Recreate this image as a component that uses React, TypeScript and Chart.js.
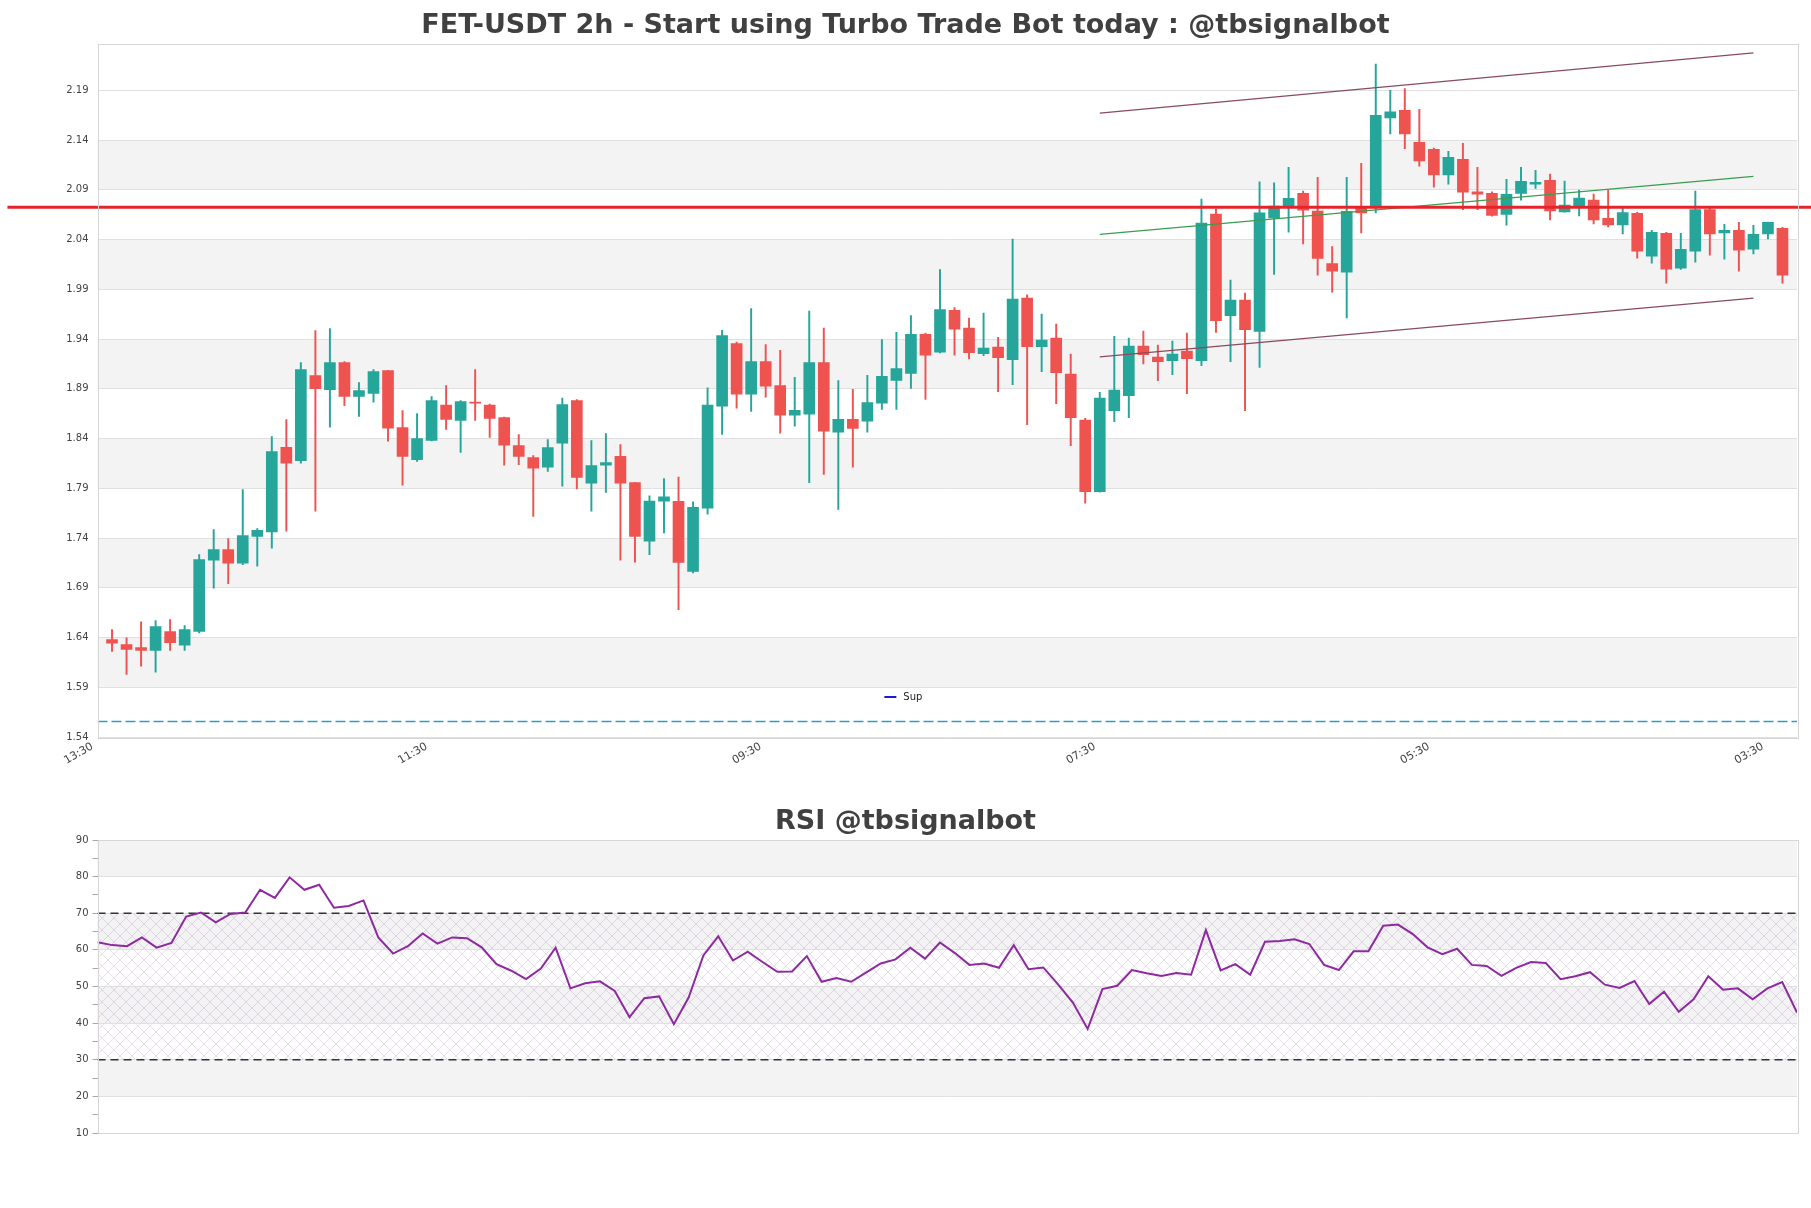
import React, { useEffect, useRef } from "react";
import { Chart, registerables } from "chart.js";

Chart.register(...registerables);

// ---------------- DATA ----------------
const mainTitle = "FET-USDT 2h - Start using Turbo Trade Bot today : @tbsignalbot";
const rsiTitle = "RSI @tbsignalbot";

const opens = [
  1.6379, 1.6329, 1.6299, 1.6269, 1.646, 1.6322, 1.646, 1.7176, 1.7283, 1.7146,
  1.7417, 1.7461, 1.8312, 1.8178, 1.9032, 1.8891, 1.9162, 1.8824, 1.8854, 1.9082,
  1.8509, 1.8188, 1.8382, 1.8737, 1.8583, 1.8765, 1.8737, 1.861, 1.8328, 1.8208,
  1.8111, 1.8352, 1.878, 1.795, 1.8131, 1.8221, 1.7957, 1.7367, 1.7769, 1.7768,
  1.7063, 1.7701, 1.8726, 1.9355, 1.8846, 1.9174, 1.8933, 1.8635, 1.8645, 1.9164,
  1.8464, 1.8592, 1.8575, 1.8756, 1.8983, 1.9054, 1.9446, 1.9268, 1.9687, 1.951,
  1.9252, 1.9319, 1.9192, 1.9812, 1.9323, 1.941, 1.9048, 1.8586, 1.7866, 1.868,
  1.883, 1.9329, 1.9219, 1.9182, 1.9279, 1.9182, 2.0656, 1.9634, 1.9791, 1.9477,
  2.0618, 2.0729, 2.0863, 2.0685, 2.0158, 2.0071, 2.0719, 2.0726, 2.1621, 2.1699,
  2.1377, 2.1306, 2.1048, 2.1205, 2.088, 2.0863, 2.0652, 2.0863, 2.0957, 2.0994,
  2.0678, 2.0738, 2.0796, 2.0614, 2.0546, 2.0664, 2.0233, 2.0462, 2.0112, 2.0284,
  2.0701, 2.0466, 2.0493, 2.0304, 2.0456, 2.0513,
];
const highs = [
  1.648, 1.6396, 1.6557, 1.657, 1.658, 1.652, 1.7233, 1.7484, 1.7394, 1.7886,
  1.7494, 1.8419, 1.859, 1.9162, 1.9484, 1.9504, 1.9172, 1.8961, 1.9092, 1.9085,
  1.868, 1.865, 1.8821, 1.8931, 1.878, 1.9092, 1.8745, 1.8616, 1.8439, 1.8228,
  1.8389, 1.8807, 1.879, 1.8379, 1.8449, 1.8338, 1.796, 1.7823, 1.7997, 1.8012,
  1.7764, 1.891, 1.9486, 1.937, 1.9707, 1.9345, 1.9285, 1.9014, 1.968, 1.9509,
  1.8983, 1.8893, 1.9034, 1.9395, 1.9466, 1.9636, 1.946, 2.0099, 1.9717, 1.9611,
  1.9661, 1.9416, 2.0404, 1.9845, 1.9651, 1.955, 1.9249, 1.8603, 1.8864, 1.9427,
  1.941, 1.948, 1.934, 1.938, 1.946, 2.0806, 2.0706, 1.9992, 1.9862, 2.098,
  2.097, 2.1125, 2.0887, 2.1024, 2.033, 2.1024, 2.1165, 2.2162, 2.19, 2.1917,
  2.1709, 2.132, 2.1286, 2.1366, 2.1125, 2.088, 2.1004, 2.1125, 2.1095, 2.1058,
  2.0988, 2.0897, 2.0856, 2.0897, 2.0722, 2.0674, 2.0493, 2.0472, 2.0462, 2.0887,
  2.0722, 2.0553, 2.0573, 2.0543, 2.0575, 2.0523,
];
const lows = [
  1.6259, 1.6028, 1.6111, 1.6051, 1.6269, 1.6269, 1.6446, 1.6895, 1.6942, 1.7133,
  1.7116, 1.7297, 1.7468, 1.8151, 1.7669, 1.8513, 1.873, 1.8623, 1.8764, 1.8372,
  1.793, 1.817, 1.8375, 1.8492, 1.8261, 1.8583, 1.8412, 1.8131, 1.8137, 1.7618,
  1.807, 1.792, 1.7893, 1.7669, 1.7859, 1.7176, 1.7156, 1.7233, 1.7451, 1.668,
  1.705, 1.764, 1.8441, 1.8705, 1.8672, 1.8816, 1.8454, 1.8525, 1.7955, 1.8039,
  1.7687, 1.8113, 1.8464, 1.8692, 1.8692, 1.8903, 1.8793, 1.926, 1.9238, 1.9199,
  1.9232, 1.887, 1.8941, 1.8539, 1.9071, 1.875, 1.8328, 1.7749, 1.786, 1.8569,
  1.8609, 1.9149, 1.8981, 1.9041, 1.885, 1.9132, 1.9467, 1.9172, 1.868, 1.9115,
  2.0048, 2.0474, 2.0356, 2.0041, 1.987, 1.9611, 2.0467, 2.0668, 2.146, 2.1313,
  2.1138, 2.0927, 2.0957, 2.0699, 2.0699, 2.0635, 2.0544, 2.0796, 2.0913, 2.0597,
  2.0675, 2.0637, 2.0557, 2.0526, 2.0456, 2.0213, 2.0163, 1.9961, 2.01, 2.0173,
  2.0243, 2.0203, 2.0082, 2.0254, 2.0405, 1.9961,
];
const closes = [
  1.6342, 1.6279, 1.6269, 1.651, 1.6349, 1.648, 1.7183, 1.7283, 1.7146, 1.7424,
  1.7478, 1.8268, 1.8151, 1.9092, 1.8901, 1.9162, 1.8824, 1.8881, 1.9072, 1.8503,
  1.8221, 1.8399, 1.878, 1.8593, 1.877, 1.8755, 1.8603, 1.8332, 1.8221, 1.8101,
  1.8308, 1.874, 1.801, 1.8127, 1.8158, 1.795, 1.7417, 1.7772, 1.7813, 1.7155,
  1.7708, 1.8736, 1.9435, 1.8846, 1.9174, 1.8926, 1.8635, 1.8682, 1.9164, 1.8474,
  1.8592, 1.8501, 1.8762, 1.9024, 1.9104, 1.9446, 1.9238, 1.9697, 1.9499, 1.9262,
  1.9309, 1.9212, 1.9802, 1.9323, 1.939, 1.9061, 1.8609, 1.7866, 1.8807, 1.8887,
  1.9329, 1.9242, 1.9172, 1.9249, 1.9202, 2.0565, 1.9584, 1.9791, 1.9493, 2.0668,
  2.0736, 2.0813, 2.0695, 2.0209, 2.0081, 2.0682, 2.0668, 2.1648, 2.1682, 2.146,
  2.1189, 2.1048, 2.1226, 2.0876, 2.0856, 2.0642, 2.0853, 2.0984, 2.0974, 2.0688,
  2.0745, 2.0816, 2.0597, 2.0546, 2.0671, 2.0284, 2.0472, 2.0102, 2.0301, 2.0701,
  2.0456, 2.0493, 2.0294, 2.0452, 2.0573, 2.0041,
];

const rsiValues = [
  62.1, 61.3, 61.0, 63.4, 60.6, 61.9, 69.1, 70.2, 67.5, 69.8,
  70.2, 76.4, 74.2, 79.8, 76.4, 77.8, 71.5, 72.0, 73.5, 63.4,
  59.0, 61.0, 64.5, 61.7, 63.4, 63.2, 60.7, 56.1, 54.3, 52.0,
  54.9, 60.6, 49.5, 50.9, 51.4, 48.8, 41.6, 46.8, 47.3, 39.7,
  47.0, 58.5, 63.7, 57.1, 59.5, 56.7, 54.0, 54.1, 58.3, 51.3,
  52.3, 51.3, 53.8, 56.3, 57.4, 60.6, 57.6, 62.0, 59.2, 55.9,
  56.3, 55.1, 61.3, 54.7, 55.2, 50.6, 45.6, 38.4, 49.3, 50.2,
  54.5, 53.6, 52.9, 53.7, 53.2, 65.4, 54.4, 56.1, 53.2, 62.2,
  62.4, 62.9, 61.6, 55.9, 54.5, 59.6, 59.6, 66.6, 66.9, 64.3,
  60.7, 58.8, 60.3, 55.9, 55.6, 52.9, 55.1, 56.7, 56.4, 52.0,
  52.8, 53.9, 50.5, 49.6, 51.5, 45.2, 48.6, 43.1, 46.5, 52.8,
  49.1, 49.5, 46.5, 49.5, 51.2, 42.9,
];

const xTickPositions = [-1, 22, 45, 68, 91, 114];
const xTickLabels = ["13:30", "11:30", "09:30", "07:30", "05:30", "03:30"];
const xRange = [-1, 116];
const priceTicks = [1.54, 1.59, 1.64, 1.69, 1.74, 1.79, 1.84, 1.89, 1.94, 1.99, 2.04, 2.09, 2.14, 2.19];
const priceRange = [1.54, 2.237];
const priceBands = [[1.59, 1.64], [1.69, 1.74], [1.79, 1.84], [1.89, 1.94], [1.99, 2.04], [2.09, 2.14]];

const resistanceLevel = 2.0724;
const resistanceSpan = [-7.2, 117];
const supportLevel = 1.5556;
const supportLabel = "Sup";
const channelX = [68, 113];
const upperChannel = [2.167, 2.2276];
const lowerChannel = [1.922, 1.981];
const midChannel = [2.0452, 2.1035];

const rsiRange = [10, 90];
const rsiBands = [[20, 30], [40, 50], [60, 70], [80, 90]];
const rsiLevels = [70, 30];
const rsiHatch = [30, 70];

// ---------------- STYLE ----------------
const GREEN = "#26a69a";
const RED = "#ef5350";
const TEXT = "#444444";
const FONT = "'DejaVu Sans', 'Noto Sans', sans-serif";

const candleColors = opens.map((o, i) => (closes[i] >= o ? GREEN : RED));

function bandsPlugin(bands: number[][], hatch?: number[]) {
  return {
    id: "bands",
    beforeDraw(chart: any) {
      const { ctx, chartArea: a, scales } = chart;
      const y = scales.y;
      ctx.save();
      ctx.fillStyle = "#f3f3f3";
      for (const [lo, hi] of bands) {
        const y1 = y.getPixelForValue(hi);
        const y2 = y.getPixelForValue(lo);
        ctx.fillRect(a.left, y1, a.right - a.left, y2 - y1);
      }
      if (hatch) {
        const tile = document.createElement("canvas");
        tile.width = 12;
        tile.height = 12;
        const g = tile.getContext("2d")!;
        g.strokeStyle = "rgba(160,125,185,0.38)";
        g.lineWidth = 0.7;
        g.beginPath();
        for (const k of [-12, 0, 12]) {
          g.moveTo(k, 0);
          g.lineTo(k + 12, 12);
          g.moveTo(k + 12, 0);
          g.lineTo(k, 12);
        }
        g.stroke();
        const pat = ctx.createPattern(tile, "repeat");
        if (pat) {
          ctx.fillStyle = pat;
          const y1 = y.getPixelForValue(hatch[1]);
          const y2 = y.getPixelForValue(hatch[0]);
          ctx.fillRect(a.left, y1, a.right - a.left, y2 - y1);
        }
      }
      ctx.restore();
    },
  };
}

const borderPlugin = {
  id: "areaBorder",
  afterDraw(chart: any) {
    const { ctx, chartArea: a } = chart;
    ctx.save();
    ctx.strokeStyle = "#d6d6d6";
    ctx.lineWidth = 1;
    ctx.strokeRect(Math.round(a.left) + 0.5, Math.round(a.top) + 0.5, Math.round(a.right - a.left), Math.round(a.bottom - a.top));
    ctx.restore();
  },
};

const legendPlugin = {
  id: "supLegend",
  afterDraw(chart: any) {
    const { ctx, chartArea: a } = chart;
    const x0 = a.left + (a.right - a.left) * 0.463;
    const y0 = a.bottom - 40;
    ctx.save();
    ctx.strokeStyle = "#1a1adb";
    ctx.lineWidth = 2;
    ctx.beginPath();
    ctx.moveTo(x0, y0);
    ctx.lineTo(x0 + 12, y0);
    ctx.stroke();
    ctx.fillStyle = "#222";
    ctx.font = `10px ${FONT}`;
    ctx.textBaseline = "middle";
    ctx.fillText(supportLabel, x0 + 19, y0);
    ctx.restore();
  },
};

const rightSpacer = {
  position: "right",
  display: true,
  grid: { display: false, drawTicks: false },
  border: { display: false },
  ticks: { display: false },
  afterFit: (s: any) => {
    s.width = 14;
  },
};

export default function App() {
  const mainRef = useRef<HTMLCanvasElement>(null);
  const rsiRef = useRef<HTMLCanvasElement>(null);

  useEffect(() => {
    Chart.defaults.font.family = FONT;

    const line2 = (xs: number[], ys: number[]) => [
      { x: xs[0], y: ys[0] },
      { x: xs[1], y: ys[1] },
    ];

    const main = new Chart(mainRef.current!, {
      type: "bar",
      data: {
        datasets: [
          {
            type: "line",
            label: "Res",
            data: line2(resistanceSpan, [resistanceLevel, resistanceLevel]),
            borderColor: "#e3242b",
            borderWidth: 3,
            pointRadius: 0,
            clip: false,
            order: 0,
          } as any,
          {
            type: "line",
            data: line2(channelX, upperChannel),
            borderColor: "#8a4a5e",
            borderWidth: 1.2,
            pointRadius: 0,
            order: 1,
          } as any,
          {
            type: "line",
            data: line2(channelX, lowerChannel),
            borderColor: "#8a4a5e",
            borderWidth: 1.2,
            pointRadius: 0,
            order: 1,
          } as any,
          {
            type: "line",
            data: line2(channelX, midChannel),
            borderColor: "#3a9d4f",
            borderWidth: 1.2,
            pointRadius: 0,
            order: 1,
          } as any,
          {
            type: "bar",
            label: "body",
            data: opens.map((o, i) => ({ x: i, y: [o, closes[i]] })),
            backgroundColor: candleColors,
            barThickness: 11,
            grouped: false,
            minBarLength: 1,
            borderWidth: 0,
            order: 2,
          } as any,
          {
            type: "bar",
            label: "wick",
            data: lows.map((l, i) => ({ x: i, y: [l, highs[i]] })),
            backgroundColor: candleColors,
            barThickness: 1.3,
            grouped: false,
            borderWidth: 0,
            order: 3,
          } as any,
          {
            type: "line",
            label: supportLabel,
            data: line2(xRange, [supportLevel, supportLevel]),
            borderColor: "#2a9ccf",
            borderWidth: 1.3,
            borderDash: [10, 4],
            pointRadius: 0,
            order: 4,
          } as any,
        ],
      },
      options: {
        responsive: false,
        animation: false,
        devicePixelRatio: 1,
        events: [],
        layout: { padding: { left: 0, right: 0, top: 0, bottom: 0 } },
        plugins: {
          legend: { display: false },
          tooltip: { enabled: false },
          title: {
            display: true,
            text: mainTitle,
            color: "#404040",
            font: { size: 27, weight: "bold", family: FONT },
            padding: { top: 10, bottom: 1.1 },
          },
        },
        scales: {
          x: {
            type: "linear",
            min: xRange[0],
            max: xRange[1],
            offset: false,
            grid: { display: false, drawTicks: false },
            border: { display: false },
            afterBuildTicks: (s: any) => {
              s.ticks = xTickPositions.map((v) => ({ value: v }));
            },
            ticks: {
              autoSkip: false,
              minRotation: 30,
              maxRotation: 30,
              padding: 3,
              labelOffset: -5,
              color: TEXT,
              font: { size: 11 },
              callback: (v: any) => xTickLabels[xTickPositions.indexOf(Number(v))] ?? "",
            },
            afterFit: (s: any) => {
              s.height = 43;
            },
          },
          y: {
            type: "linear",
            min: priceRange[0],
            max: priceRange[1],
            grid: { color: "#e0e0e0", drawTicks: false },
            border: { display: false },
            afterBuildTicks: (s: any) => {
              s.ticks = priceTicks.map((v) => ({ value: v }));
            },
            ticks: {
              padding: 9,
              color: TEXT,
              font: { size: 10 },
              callback: (v: any) => Number(v).toFixed(2),
            },
            afterFit: (s: any) => {
              s.width = 97.5;
            },
          },
          yRight: rightSpacer as any,
        },
      } as any,
      plugins: [bandsPlugin(priceBands), borderPlugin, legendPlugin],
    });

    const rsi = new Chart(rsiRef.current!, {
      type: "line",
      data: {
        datasets: [
          {
            data: rsiValues.map((v, i) => ({ x: i, y: v })),
            borderColor: "#8e2aa0",
            borderWidth: 2,
            pointRadius: 0,
            tension: 0,
            order: 0,
          } as any,
          ...rsiLevels.map(
            (lv) =>
              ({
                data: [
                  { x: 0, y: lv },
                  { x: rsiValues.length - 1, y: lv },
                ],
                borderColor: "#333333",
                borderWidth: 1.3,
                borderDash: [8, 5],
                pointRadius: 0,
                order: 1,
              }) as any
          ),
        ],
      },
      options: {
        responsive: false,
        animation: false,
        devicePixelRatio: 1,
        events: [],
        layout: { padding: { left: 0, right: 0, top: 0, bottom: 47 } },
        plugins: {
          legend: { display: false },
          tooltip: { enabled: false },
          title: {
            display: true,
            text: rsiTitle,
            color: "#404040",
            font: { size: 27, weight: "bold", family: FONT },
            padding: { top: 26.1, bottom: 1.5 },
          },
        },
        scales: {
          x: {
            type: "linear",
            min: 0,
            max: rsiValues.length - 1,
            display: false,
          },
          y: {
            type: "linear",
            min: rsiRange[0],
            max: rsiRange[1],
            border: { display: false },
            grid: {
              color: (c: any) => (c.tick && c.tick.value % 10 === 0 ? "#e0e0e0" : "rgba(0,0,0,0)"),
              tickColor: "#aaaaaa",
              tickLength: 5,
            },
            ticks: {
              stepSize: 5,
              autoSkip: false,
              padding: 4,
              color: TEXT,
              font: { size: 10 },
              callback: (v: any) => (Number(v) % 10 === 0 ? String(v) : ""),
            },
            afterFit: (s: any) => {
              s.width = 97.5;
            },
          },
          yRight: rightSpacer as any,
        },
      } as any,
      plugins: [bandsPlugin(rsiBands, rsiHatch), borderPlugin],
    });

    return () => {
      main.destroy();
      rsi.destroy();
    };
  }, []);

  return (
    <div
      style={{
        position: "absolute",
        left: 0,
        top: 0,
        width: 1811,
        height: 1208,
        background: "#ffffff",
        overflow: "hidden",
      }}
    >
      <canvas
        ref={mainRef}
        width={1811}
        height={780}
        style={{ position: "absolute", left: 0, top: 0, width: 1811, height: 780 }}
      />
      <canvas
        ref={rsiRef}
        width={1811}
        height={400}
        style={{ position: "absolute", left: 0, top: 780, width: 1811, height: 400 }}
      />
    </div>
  );
}
